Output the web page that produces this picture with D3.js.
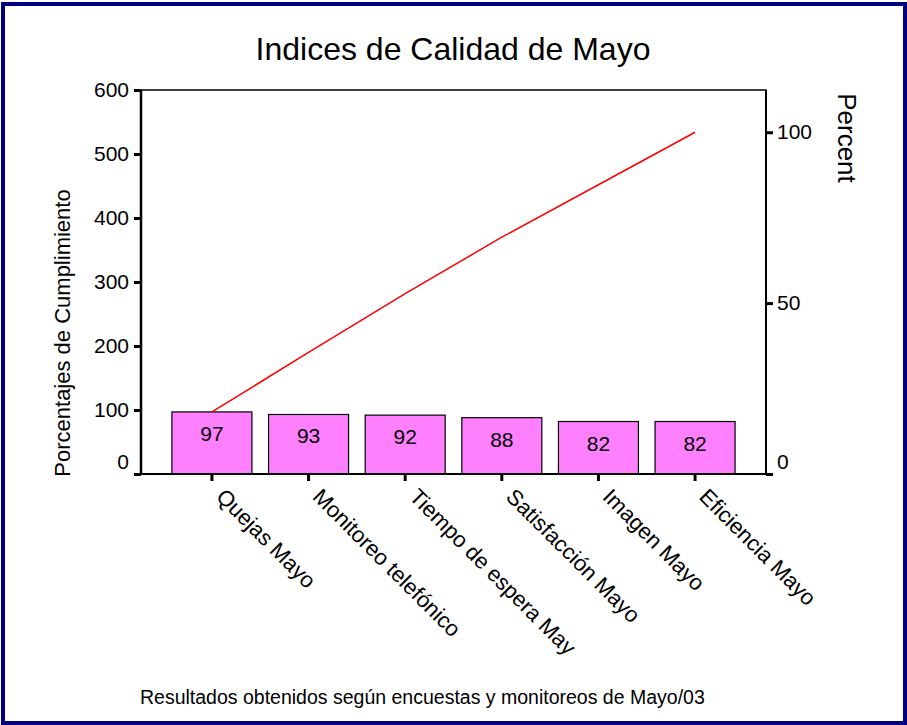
<!DOCTYPE html>
<html>
<head>
<meta charset="utf-8">
<script src="https://cdn.jsdelivr.net/npm/d3@7.9.0/dist/d3.min.js"></script>
<style>
  body { margin: 0; background: #fff; }
  svg text { font-family: "Liberation Sans", Arial, sans-serif; fill: #000; }
</style>
</head>
<body>
<svg id="chart" width="907" height="725"></svg>
<script>
// data
const categories = ['Quejas Mayo', 'Monitoreo telefónico', 'Tiempo de espera May',
  'Satisfacción Mayo', 'Imagen Mayo', 'Eficiencia Mayo'];
const values = [97, 93, 92, 88, 82, 82];
const leftTicks = [0, 100, 200, 300, 400, 500, 600];
const rightTicks = [0, 50, 100];

const svg = d3.select('#chart');
const W = 907, H = 725;
const FONT = '"Liberation Sans", Arial, sans-serif';

// outer frame
svg.append('rect')
  .attr('x', 3).attr('y', 4).attr('width', W - 5).attr('height', H - 6)
  .attr('fill', 'none').attr('stroke', '#000080').attr('stroke-width', 4);

const plot = { left: 141, right: 766, top: 90, bottom: 474 };

const x = d3.scaleBand()
  .domain(categories)
  .range([plot.left, plot.right])
  .paddingInner(0.172)
  .paddingOuter(0.32);

const y = d3.scaleLinear().domain([0, 600]).range([plot.bottom, plot.top]);

const total = d3.sum(values);
const yPct = d3.scaleLinear().domain([0, 100]).range([plot.bottom, y(total)]);

// cumulative values for the pareto line
const cumulative = d3.cumsum(values);

// title
svg.append('text')
  .attr('x', 453).attr('y', 60)
  .attr('text-anchor', 'middle')
  .attr('font-size', 32)
  .text('Indices de Calidad de Mayo');

// plot frame (top / right)
svg.append('path')
  .attr('d', `M${plot.left},${plot.top}H${plot.right}V${plot.bottom}`)
  .attr('fill', 'none').attr('stroke', '#000').attr('stroke-width', 1.5);

// bars
svg.selectAll('rect.bar')
  .data(values)
  .join('rect')
  .attr('class', 'bar')
  .attr('x', (d, i) => x(categories[i]))
  .attr('y', d => y(d))
  .attr('width', x.bandwidth())
  .attr('height', d => y(0) - y(d))
  .attr('fill', '#ff80ff')
  .attr('stroke', '#000')
  .attr('stroke-width', 1.2);

// value labels
svg.selectAll('text.val')
  .data(values)
  .join('text')
  .attr('class', 'val')
  .attr('x', (d, i) => x(categories[i]) + x.bandwidth() / 2)
  .attr('y', d => y(d) + 29)
  .attr('text-anchor', 'middle')
  .attr('font-size', 21)
  .text(d => d);

// cumulative line
const line = d3.line()
  .x((d, i) => x(categories[i]) + x.bandwidth() / 2)
  .y(d => y(d));
svg.append('path')
  .datum(cumulative)
  .attr('d', line)
  .attr('fill', 'none')
  .attr('stroke', '#ff0000')
  .attr('stroke-width', 1.5);

// left axis
const leftAxis = svg.append('g')
  .attr('transform', `translate(${plot.left},0)`)
  .call(d3.axisLeft(y).tickValues(leftTicks).tickSize(7).tickPadding(5));
leftAxis.select('.domain').attr('stroke-width', 2.5)
  .attr('d', `M0,${plot.top}V${plot.bottom}`);
leftAxis.selectAll('.tick line').attr('stroke-width', 3);
leftAxis.selectAll('.tick text')
  .attr('font-size', 21)
  .attr('font-family', FONT)
  .attr('dy', d => d === 0 ? '-0.25em' : '0.32em');

// right axis
const rightAxis = svg.append('g')
  .attr('transform', `translate(${plot.right},0)`)
  .call(d3.axisRight(yPct).tickValues(rightTicks).tickSize(7).tickPadding(4));
rightAxis.select('.domain').attr('stroke-width', 2)
  .attr('d', `M0,${plot.top}V${plot.bottom}`);
rightAxis.selectAll('.tick line').attr('stroke-width', 3);
rightAxis.selectAll('.tick text')
  .attr('font-size', 21)
  .attr('font-family', FONT)
  .attr('dy', d => d === 0 ? '-0.25em' : '0.32em');

// bottom axis, labels slanted downwards
const bottomAxis = svg.append('g')
  .attr('transform', `translate(0,${plot.bottom})`)
  .call(d3.axisBottom(x).tickSize(7).tickPadding(8));
bottomAxis.select('.domain').attr('stroke-width', 2)
  .attr('d', `M${plot.left - 7},0H${plot.right + 7}`);
bottomAxis.selectAll('.tick line').attr('stroke-width', 3);
bottomAxis.selectAll('.tick text')
  .attr('font-size', 22)
  .attr('font-family', FONT)
  .attr('text-anchor', 'start')
  .attr('x', 0).attr('y', 0).attr('dy', 0)
  .attr('transform', 'translate(3,24) rotate(45)');

// axis titles
svg.append('text')
  .attr('transform', 'translate(70,333) rotate(-90)')
  .attr('text-anchor', 'middle')
  .attr('font-size', 22)
  .text('Porcentajes de Cumplimiento');

svg.append('text')
  .attr('transform', 'translate(838,138) rotate(90)')
  .attr('text-anchor', 'middle')
  .attr('font-size', 26)
  .text('Percent');

// footnote
svg.append('text')
  .attr('x', 140).attr('y', 704)
  .attr('font-size', 19.5)
  .text('Resultados obtenidos según encuestas y monitoreos de Mayo/03');
</script>
</body>
</html>
